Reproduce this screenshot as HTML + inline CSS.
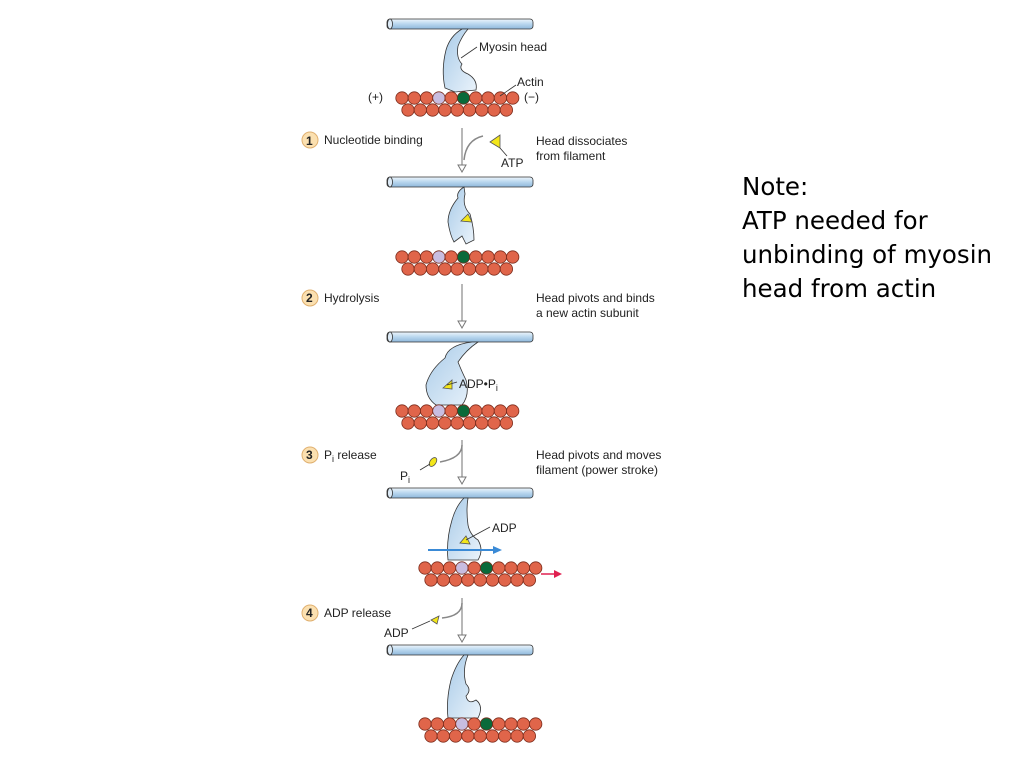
<!DOCTYPE html>
<html><head><meta charset="utf-8"><style>
html,body{margin:0;padding:0;background:#fff;}
svg{display:block;}
.t{font-family:"Liberation Sans",sans-serif;font-size:12px;fill:#222;}
.n{font-family:"DejaVu Sans","Liberation Sans",sans-serif;font-size:24.5px;fill:#000;}
</style></head><body>
<svg id="s" width="1024" height="768" viewBox="0 0 1024 768" xmlns="http://www.w3.org/2000/svg">
<defs>
<linearGradient id="rod" x1="0" y1="0" x2="0" y2="1"><stop offset="0" stop-color="#eef6fc"/><stop offset="0.5" stop-color="#b8d6ee"/><stop offset="1" stop-color="#8fb8db"/></linearGradient>
<linearGradient id="hd" x1="0" y1="0" x2="1" y2="1"><stop offset="0" stop-color="#a9cbe8"/><stop offset="1" stop-color="#eaf3fb"/></linearGradient>
</defs>
<g id="g"></g>
<text class="t" x="479" y="51">Myosin head</text>
<line x1="461" y1="58" x2="477" y2="47" stroke="#333" stroke-width="0.8"/>
<text class="t" x="517" y="86">Actin</text>
<line x1="500" y1="96" x2="516" y2="85" stroke="#333" stroke-width="0.8"/>
<text class="t" x="368" y="101">(+)</text>
<text class="t" x="524" y="101">(−)</text>

<circle cx="310" cy="140" r="8" fill="#fbe0b0" stroke="#e0b070"/><text class="t" x="306" y="145" font-weight="bold" font-size="11">1</text>
<text class="t" x="324" y="144">Nucleotide binding</text>
<text class="t" x="536" y="145">Head dissociates</text><text class="t" x="536" y="160">from filament</text>
<polygon points="490,142 500,135 500,148" fill="#f3e61a" stroke="#555" stroke-width="0.8"/>
<line x1="500" y1="148" x2="507" y2="156" stroke="#333" stroke-width="0.8"/>
<text class="t" x="501" y="167">ATP</text>
<path d="M483,136 Q466,140 464,160" fill="none" stroke="#888" stroke-width="1.5"/>

<circle cx="310" cy="298" r="8" fill="#fbe0b0" stroke="#e0b070"/><text class="t" x="306" y="302" font-weight="bold" font-size="11">2</text>
<text class="t" x="324" y="302">Hydrolysis</text>
<text class="t" x="536" y="302">Head pivots and binds</text><text class="t" x="536" y="317">a new actin subunit</text>
<text class="t" x="459" y="388">ADP•P<tspan font-size="9" dy="3">i</tspan></text>
<line x1="447" y1="385" x2="457" y2="382" stroke="#333" stroke-width="0.8"/>

<circle cx="310" cy="455" r="8" fill="#fbe0b0" stroke="#e0b070"/><text class="t" x="306" y="459" font-weight="bold" font-size="11">3</text>
<text class="t" x="324" y="459">P<tspan font-size="9" dy="3">i</tspan><tspan dy="-3"> release</tspan></text>
<text class="t" x="536" y="459">Head pivots and moves</text><text class="t" x="536" y="474">filament (power stroke)</text>
<ellipse cx="433" cy="462" rx="3" ry="5" transform="rotate(35 433 462)" fill="#f3e61a" stroke="#555" stroke-width="0.8"/>
<line x1="420" y1="470" x2="430" y2="464" stroke="#333" stroke-width="0.8"/>
<text class="t" x="400" y="480">P<tspan font-size="9" dy="3">i</tspan></text>
<path d="M462,445 Q462,458 440,462" fill="none" stroke="#888" stroke-width="1.5"/>
<text class="t" x="492" y="532">ADP</text>
<line x1="466" y1="540" x2="490" y2="527" stroke="#333" stroke-width="0.8"/>
<line x1="428" y1="550" x2="495" y2="550" stroke="#3a8ad6" stroke-width="2"/><polygon points="502,550 493,546 493,554" fill="#3a8ad6"/>
<line x1="541" y1="574" x2="556" y2="574" stroke="#e02050" stroke-width="1.5"/><polygon points="562,574 554,570 554,578" fill="#e02050"/>

<circle cx="310" cy="613" r="8" fill="#fbe0b0" stroke="#e0b070"/><text class="t" x="306" y="617" font-weight="bold" font-size="11">4</text>
<text class="t" x="324" y="617">ADP release</text>
<polygon points="431,620 439,616 437,624" fill="#f3e61a" stroke="#555" stroke-width="0.8"/>
<line x1="412" y1="629" x2="430" y2="621" stroke="#333" stroke-width="0.8"/>
<text class="t" x="384" y="637">ADP</text>
<path d="M462,603 Q462,616 442,618" fill="none" stroke="#888" stroke-width="1.5"/>

<text class="n" x="742" y="195">Note:</text>
<text class="n" x="742" y="229">ATP needed for</text>
<text class="n" x="742" y="263">unbinding of myosin</text>
<text class="n" x="742" y="297">head from actin</text>
</svg>
<script>
var g=document.getElementById('g'),NS='http://www.w3.org/2000/svg';
function el(t,a){var e=document.createElementNS(NS,t);for(var k in a)e.setAttribute(k,a[k]);g.appendChild(e);return e;}
function rod(y){el('rect',{x:387,y:y-5,width:146,height:10,rx:3,fill:'url(#rod)',stroke:'#333','stroke-width':0.8});el('ellipse',{cx:390,cy:y,rx:2.5,ry:5,fill:'#dceaf6',stroke:'#333','stroke-width':0.8});}
function actin(x0,y,lav,grn){for(var i=0;i<10;i++){var c=x0+i*12.3;var f=i==lav?'#c8bde0':i==grn?'#0a6a3a':'#e0654a';el('circle',{cx:c,cy:y,r:6.2,fill:f,stroke:'#7a2a1a','stroke-width':0.8});}
for(var i=0;i<9;i++){el('circle',{cx:x0+6+i*12.3,cy:y+12,r:6.2,fill:'#e0654a',stroke:'#7a2a1a','stroke-width':0.8});}}
function head(d){el('path',{d:d,fill:'url(#hd)',stroke:'#333','stroke-width':0.8});}
function arrow(y1,y2){el('line',{x1:462,y1:y1,x2:462,y2:y2-6,stroke:'#888','stroke-width':1.2});el('polygon',{points:(458)+','+(y2-7)+' 466,'+(y2-7)+' 462,'+y2,fill:'#fff',stroke:'#777','stroke-width':1});}
rod(24);
head('M462,29 Q450,36 446,50 Q441,70 445,88 L455,92 L476,90 Q478,80 468,74 Q458,70 462,64 Q456,58 458,46 Q462,36 468,29 Z');
actin(402,98,3,5);
arrow(128,172);
rod(182);
head('M464,187 Q456,192 458,198 Q448,210 448,222 Q450,235 454,242 L462,236 L466,244 L474,240 Q474,228 470,214 Q462,206 465,194 Z');
el('polygon',{points:'461,221 468,214 472,222',fill:'#f3e61a',stroke:'#555','stroke-width':0.8});
actin(402,257,3,5);
arrow(284,328);
rod(337);
head('M472,342 Q448,345 445,358 Q430,370 426,385 Q426,398 436,405 L462,405 Q470,395 466,380 Q462,372 458,362 Q466,350 478,342 Z');
el('polygon',{points:'443,388 452,380 452,389',fill:'#f3e61a',stroke:'#555','stroke-width':0.8});
actin(402,411,3,5);
arrow(440,484);
rod(493);
head('M464,498 Q456,506 452,520 Q446,540 448,560 L478,560 Q484,550 478,540 Q470,535 468,525 Q466,510 468,498 Z');
el('polygon',{points:'460,543 466,536 470,544',fill:'#f3e61a',stroke:'#555','stroke-width':0.8});
actin(425,568,3,5);
arrow(598,642);
rod(650);
head('M464,655 Q456,664 451,680 Q446,700 448,718 L478,718 Q484,706 476,700 Q468,705 466,696 Q472,690 466,684 Q462,670 468,655 Z');
actin(425,724,3,5);
</script>
</body></html>
